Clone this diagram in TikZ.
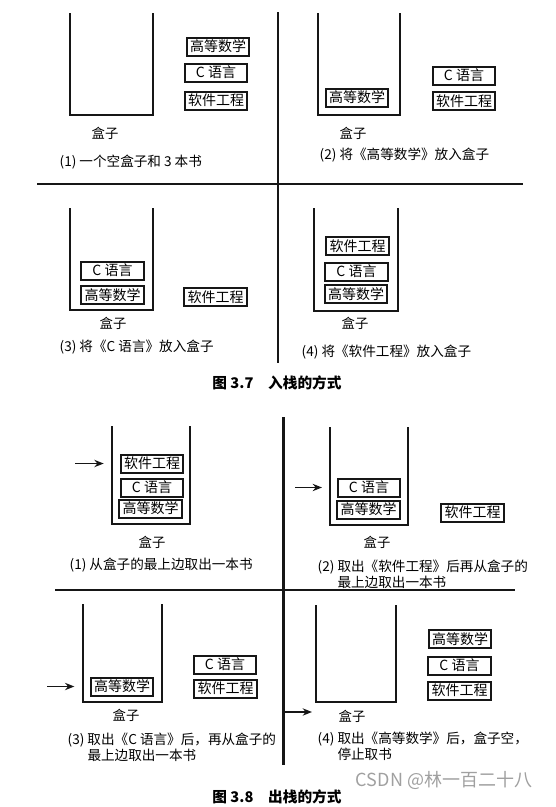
\documentclass[tikz,border=0pt]{standalone}
\usepackage{fontspec}
\setmainfont{Noto Sans CJK SC}
\usetikzlibrary{arrows.meta,positioning}
\definecolor{bookink}{RGB}{22,22,22}
\definecolor{markgray}{RGB}{160,160,160}

\begin{document}
\begin{tikzpicture}[x=0.75pt,y=-0.75pt,>={Stealth[length=7pt,width=5.5pt]},
 book/.style={draw=bookink,line width=1.5pt,minimum width=47pt,minimum height=13.5pt,
  inner sep=0pt,font=\fontsize{10.5}{12}\selectfont},
 wall/.style={bookink,line width=1.1pt},
 thinrule/.style={bookink,line width=1.1pt},
 thickrule/.style={bookink,line width=1.9pt},
 boxname/.style={font=\fontsize{10}{12}\selectfont},
 caption/.style={anchor=west,align=left,font=\fontsize{10.2}{12}\selectfont},
 figtitle/.style={font=\bfseries\fontsize{11}{12}\selectfont},
 pointer/.style={->,bookink,line width=1.1pt}]
\useasboundingbox (0,0) rectangle (556,807);
\draw[thinrule] (278,12)--(278,363);
\draw[thinrule] (37,184)--(523,184);
\draw[thickrule] (283.5,417)--(283.5,765);
\draw[thickrule] (55,590)--(515,590);
\foreach \l/\t/\r/\b in {70/13/153/115,318/13/400/115,70/208/153/310,314/208/398/311,
 112/426/190/524,330/427/408/525,83/604/162/702,316/605/396/702}
 \draw[wall] (\l,\t)--(\l,\b)--(\r,\b)--(\r,\t);
\foreach \nm/\xx/\yy/\tx in {in1math/218/46.5/高等数学,in1c/216/72.5/C 语言,in1se/216/100.5/软件工程,
 in2math/357/97.5/高等数学,in2c/464/75.5/C 语言,in2se/464/101/软件工程,
 in3c/112.5/270.5/C 语言,in3math/112.5/295/高等数学,in3se/215.5/297/软件工程,
 in4se/357.5/246/软件工程,in4c/356.5/271.5/C 语言,in4math/356/294/高等数学,
 out1se/152/463.5/软件工程,out1c/152/487.5/C 语言,out1math/150.5/508.5/高等数学,
 out2c/369/487.5/C 语言,out2math/368.5/509.5/高等数学,out2se/472.5/512.5/软件工程,
 out3math/122/686.5/高等数学,out3c/225/664.5/C 语言,out3se/225.5/688.5/软件工程,
 out4math/460/639/高等数学,out4c/459.5/665.5/C 语言,out4se/459.5/690.5/软件工程}
 \node[book] (\nm) at (\xx,\yy) {\tx};
\node[boxname] (in1box) at (105,133) {盒子};
\node[boxname] (in2box) at (353,133) {盒子};
\node[boxname] (in3box) at (113,323) {盒子};
\node[boxname] (in4box) at (355,323) {盒子};
\node[boxname] (out1box) at (152,542) {盒子};
\node[boxname] (out2box) at (377,542) {盒子};
\node[boxname] (out3box) at (126,715) {盒子};
\node[boxname] (out4box) at (352,716) {盒子};
\node[caption] (in1cap) at (55,162) {(1) 一个空盒子和 3 本书};
\node[caption] (in2cap) at (315,155) {(2) 将《高等数学》放入盒子};
\node[caption] (in3cap) at (55,347) {(3) 将《C 语言》放入盒子};
\node[caption] (in4cap) at (297,352) {(4) 将《软件工程》放入盒子};
\node[caption] (out1cap) at (65,565) {(1) 从盒子的最上边取出一本书};
\node[caption] (out2cap) at (313,575) {(2) 取出《软件工程》后再从盒子的\\\phantom{(2) }最上边取出一本书};
\node[caption] (out3cap) at (63,748.5) {(3) 取出《C 语言》后，再从盒子的\\\phantom{(3) }最上边取出一本书};
\node[caption] (out4cap) at (313,747.5) {(4) 取出《高等数学》后，盒子空，\\\phantom{(4) }停止取书};
\node[figtitle] (fig7) at (277,383) {图 3.7\quad 入栈的方式};
\node[figtitle] (fig8) at (277,797) {图 3.8\quad 出栈的方式};
\node[font=\fontsize{13.5}{15}\selectfont,text=markgray] (mark) at (444,780) {CSDN @林一百二十八};
\coordinate (out1tail) at (75,463.5);
\coordinate (out2tail) at (295,487.5);
\coordinate (out3tail) at (47,686.5);
\coordinate (out4tail) at (283.5,712);
\coordinate (out4tip) at (312,712);
\draw[pointer,shorten >=12pt] (out1tail)--(out1se.west);
\draw[pointer,shorten >=11pt] (out2tail)--(out2c.west);
\draw[pointer,shorten >=11.5pt] (out3tail)--(out3math.west);
\draw[pointer] (out4tail)--(out4tip);
\end{tikzpicture}
\end{document}
